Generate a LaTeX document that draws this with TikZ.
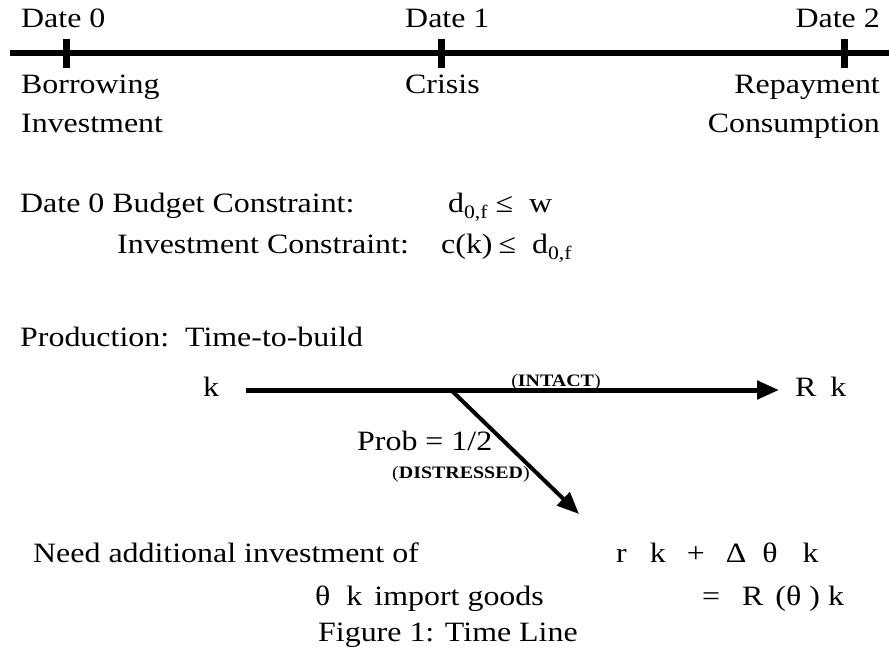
\documentclass[tikz,border=0pt]{standalone}
\usepackage{fontspec}
\setmainfont{Liberation Serif}[FakeStretch=1.14]
\usetikzlibrary{arrows.meta, positioning}
\newcommand\dof{d\raisebox{-6pt}{\fontsize{19}{19}\selectfont 0,f}}

\begin{document}
\begin{tikzpicture}[x=1pt, y=-1pt,
    lbl/.style={inner sep=0pt, anchor=base west, font=\fontsize{28}{32}\selectfont},
    tag/.style={inner sep=0pt, font=\fontsize{17.5}{20}\selectfont},
    axis/.style={line width=6pt},
    tick/.style={line width=7pt},
    flow/.style={line width=5pt, -{Triangle[length=22pt, width=18pt]}}]
    \useasboundingbox (0,0) rectangle (889,647);

    % time line
    \coordinate (tstart) at (10,53);
    \coordinate (tend) at (889,53);
    \draw[axis] (tstart) -- (tend);
    \foreach \x/\name in {66/d0, 441/d1, 844/d2} {
        \coordinate (\name) at (\x,53);
        \draw[tick] (\x,39) -- (\x,68);
    }
    \node[lbl] (date0) at (21,28) {Date 0};
    \node[lbl] (date1) at (405,28) {Date 1};
    \node[lbl, anchor=base east] (date2) at (880,28) {Date 2};
    \node[lbl] (borrow) at (21,94) {Borrowing};
    \node[lbl] (invest) at (21,133) {Investment};
    \node[lbl] (crisis) at (405,94) {Crisis};
    \node[lbl, anchor=base east] (repay) at (880,94) {Repayment};
    \node[lbl, anchor=base east] (consume) at (880,133) {Consumption};

    % constraints
    \node[lbl] (budget) at (20,213) {Date 0 Budget Constraint:};
    \node[lbl] (budgeteq) at (448,213) {\dof\hspace{8pt}≤\hspace{16pt}w};
    \node[lbl] (invcon) at (117,254) {Investment Constraint:};
    \node[lbl] (invconeq) at (441,254) {c(k)\hspace{6pt}≤\hspace{16pt}\dof};

    % production
    \node[lbl] (prod) at (20,346) {Production:\ \ Time-to-build};
    \node[lbl] (k) at (203,396) {k};
    \node[lbl] (Rk) at (795,396) {R\hspace{14pt}k};
    \coordinate (a0) at (246,390);
    \coordinate (split) at (451,390);
    \coordinate (a1) at (779,390);
    \coordinate (a2) at (579,514);
    \draw[flow] (a0) -- (a1);
    \draw[flow, line width=4pt] (split) -- (a2);
    \node[tag, anchor=base] (intact) at (556,386) {(\textbf{INTACT})};
    \node[lbl] (prob) at (357,450) {Prob = 1/2};
    \node[tag, anchor=base west] (distress) at (392,478) {(\textbf{DISTRESSED})};

    \node[lbl] (need) at (33,562) {Need additional investment of};
    \node[lbl] (needeq) at (616,562) {r\hspace{23pt}k\hspace{21pt}+\hspace{21pt}Δ\hspace{16pt}θ\hspace{25pt}k};
    \node[lbl] (theta) at (315,605) {θ\hspace{16pt}k\hspace{12pt}import goods};
    \node[lbl] (thetaeq) at (702,605) {=\hspace{22pt}R\hspace{12pt}(θ\hspace{8pt})\hspace{8pt}k};
    \node[lbl] (caption) at (318,641) {Figure 1: Time Line};
\end{tikzpicture}
\end{document}
